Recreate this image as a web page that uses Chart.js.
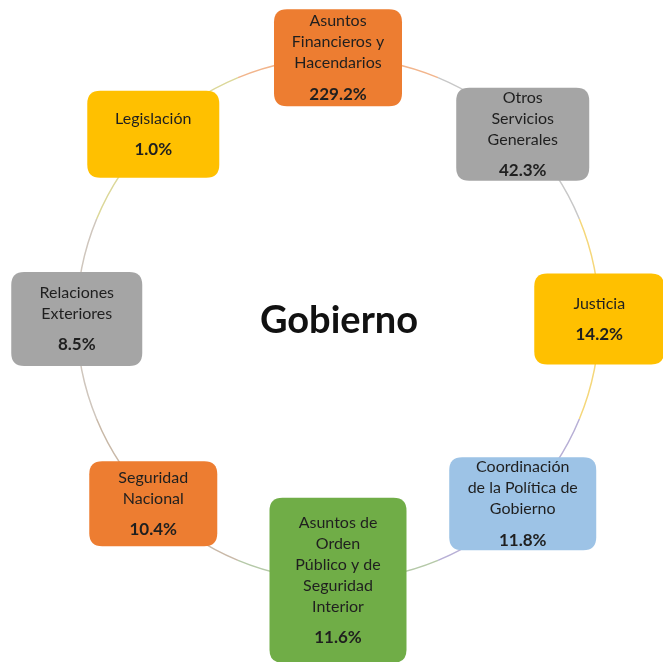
<!DOCTYPE html>
<html lang="es">
<head>
<meta charset="utf-8">
<script src="https://cdn.jsdelivr.net/npm/chart.js@4.4.1/dist/chart.umd.min.js"></script>
<style>
    html, body { margin: 0; padding: 0; background: #ffffff; }
    #wrap { width: 663px; height: 662px; }
</style>
</head>
<body>
<div id="wrap"><canvas id="chart" width="663" height="662"></canvas></div>
<script>
// datos - en orden de las manecillas del reloj, empezando arriba
const categories = [
    'Asuntos\nFinancieros y\nHacendarios',
    'Otros\nServicios\nGenerales',
    'Justicia',
    'Coordinación\nde la Política de\nGobierno',
    'Asuntos de\nOrden\nPúblico y de\nSeguridad\nInterior',
    'Seguridad\nNacional',
    'Relaciones\nExteriores',
    'Legislación'
];
const values = [229.2, 42.3, 14.2, 11.8, 11.6, 10.4, 8.5, 1.0];
const centerTitle = 'Gobierno';

// estilos
const boxColors = ['#ED7D31', '#A5A5A5', '#FFC000', '#9DC3E6', '#70AD47', '#ED7D31', '#A5A5A5', '#FFC000'];
const ringColors = ['#f2b58c', '#c8c8c8', '#f5d77a', '#b8b0d6', '#b5c9a8', '#c9b9a8', '#cfc6bd', '#dcd89a'];
const boxSizes = [[128, 97], [133, 93], [130, 91], [147, 93], [137, 165], [128, 85], [131, 94], [132, 87]];

function roundRect(ctx, x, y, w, h, r) {
    ctx.beginPath();
    ctx.moveTo(x + r, y);
    ctx.lineTo(x + w - r, y);
    ctx.quadraticCurveTo(x + w, y, x + w, y + r);
    ctx.lineTo(x + w, y + h - r);
    ctx.quadraticCurveTo(x + w, y + h, x + w - r, y + h);
    ctx.lineTo(x + r, y + h);
    ctx.quadraticCurveTo(x, y + h, x, y + h - r);
    ctx.lineTo(x, y + r);
    ctx.quadraticCurveTo(x, y, x + r, y);
    ctx.closePath();
}

// cajas de texto sobre cada segmento
const boxLabels = {
    id: 'boxLabels',
    afterDatasetsDraw(chart) {
        const ctx = chart.ctx;
        const meta = chart.getDatasetMeta(0);
        ctx.save();
        meta.data.forEach((arc, i) => {
            const p = arc.getProps(['x', 'y', 'startAngle', 'endAngle', 'outerRadius', 'innerRadius'], true);
            const mid = (p.startAngle + p.endAngle) / 2;
            const r = (p.outerRadius + p.innerRadius) / 2;
            const cx = p.x + Math.cos(mid) * r;
            const cy = p.y + Math.sin(mid) * r;
            const [w, h] = boxSizes[i];

            roundRect(ctx, cx - w / 2, cy - h / 2, w, h, 13);
            ctx.fillStyle = boxColors[i];
            ctx.fill();

            const lines = categories[i].split('\n');
            const lineH = 21, gap = 31;
            const blockH = (lines.length - 1) * lineH + gap;
            let y = cy - blockH / 2;
            ctx.fillStyle = '#1f1f1f';
            ctx.textAlign = 'center';
            ctx.textBaseline = 'middle';
            ctx.font = '16px Lato';
            lines.forEach((t, k) => {
                ctx.fillText(t, cx, y + k * lineH);
            });
            ctx.font = 'bold 17px Lato';
            ctx.fillText(values[i].toFixed(1) + '%', cx, y + (lines.length - 1) * lineH + gap);
        });

        // título central
        const a = meta.data[0];
        ctx.font = 'bold 38px Lato';
        ctx.fillStyle = '#111111';
        ctx.fillText(centerTitle, a.x + 1, a.y + 2);
        ctx.restore();
    }
};

new Chart(document.getElementById('chart'), {
    type: 'doughnut',
    data: {
        labels: categories,
        datasets: [{
            data: categories.map(() => 1), // posiciones iguales en el círculo
            backgroundColor: ringColors,
            borderWidth: 0
        }]
    },
    options: {
        responsive: false,
        animation: false,
        events: [],
        rotation: -22.5,
        cutout: 260.5,
        layout: { padding: { left: 76, right: 63, top: 57, bottom: 81 } },
        plugins: {
            legend: { display: false },
            tooltip: { enabled: false }
        }
    },
    plugins: [boxLabels]
});
</script>
</body>
</html>
